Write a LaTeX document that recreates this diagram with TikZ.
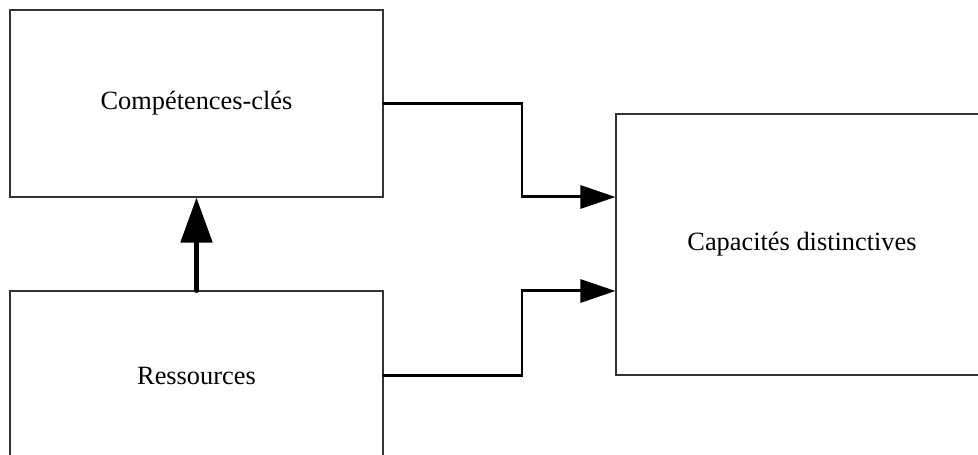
\documentclass[tikz,border=0pt]{standalone}
\usepackage{fontspec}
\setmainfont{Liberation Serif}
\usetikzlibrary{arrows.meta}
\begin{document}
\begin{tikzpicture}[every node/.style={font=\fontsize{15}{18}\selectfont},
  bloc/.style={draw=black!80,line width=0.6pt,inner sep=0pt,align=center},
  lien/.style={line width=1.7pt,line cap=round,-{Triangle[length=0.7cm,width=0.46cm]}}]
\useasboundingbox (0,0) rectangle (19.56,9.1);
\node[bloc,minimum width=7.46cm,minimum height=3.74cm] (comp) at (3.93,7.03) {Compétences-clés};
\node[bloc,minimum width=7.46cm,minimum height=3.4cm] (res) at (3.93,1.58) {Ressources};
\node[bloc,minimum width=7.44cm,minimum height=5.22cm] (cap) at (16.04,4.21) {Capacités distinctives};
\coordinate (capA) at ([yshift=0.95cm]cap.west);
\coordinate (capB) at ([yshift=-0.93cm]cap.west);
\draw[lien] (comp.east) -- (10.44,0 |- comp.east) |- (capA);
\draw[lien] (res.east) -- (10.44,0 |- res.east) |- (capB);
\draw[line width=2.8pt,line cap=round,-{Triangle[length=0.9cm,width=0.62cm]}] (res.north) -- (comp.south);
\end{tikzpicture}
\end{document}
